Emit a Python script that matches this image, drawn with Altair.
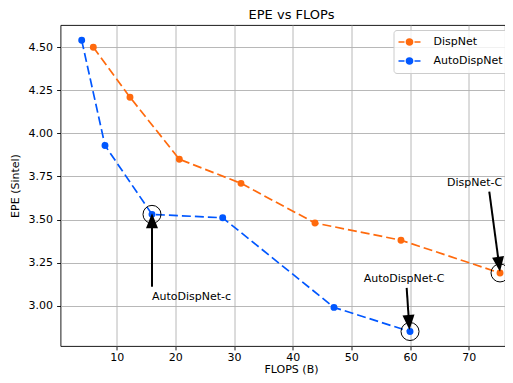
import math
import altair as alt
import pandas as pd

# ---------------- data ----------------
series_names = ["DispNet", "AutoDispNet"]
series_colors = ["#ff6a0d", "#0057ff"]

disp_flops = [6.02, 12.27, 20.68, 31.19, 43.80, 58.46, 75.34]
disp_epe = [4.50, 4.21, 3.85, 3.71, 3.48, 3.38, 3.19]
auto_flops = [4.04, 8.01, 16.02, 28.07, 47.04, 60.00]
auto_epe = [4.54, 3.93, 3.53, 3.51, 2.99, 2.85]

highlight_flops = [16.02, 60.00, 75.34]
highlight_epe = [3.53, 2.85, 3.19]

ann_labels = ["AutoDispNet-c", "AutoDispNet-C", "DispNet-C"]
ann_text_x = [16.02, 52.1, 66.3]
ann_text_y = [3.052, 3.153, 3.710]
ann_tail_x = [16.02, 59.43, 73.51]
ann_tail_y = [3.110, 3.103, 3.662]
ann_tip_x = [16.02, 59.91, 75.34]
ann_tip_y = [3.536, 2.859, 3.197]

x_ticks = [10, 20, 30, 40, 50, 60, 70]
y_ticks = [3.00, 3.25, 3.50, 3.75, 4.00, 4.25, 4.50]

# ---------------- layout ----------------
PAD_L, PAD_T, PAD_B = 52.5, 17, 29
PLOT_W, PLOT_H = 444.5, 321
PX_X = 5.867
X_DOMAIN = [0.426, 0.426 + PLOT_W / PX_X]
Y_DOMAIN = [2.766, 4.629]
PX_Y = PLOT_H / (Y_DOMAIN[1] - Y_DOMAIN[0])
FONT = "DejaVu Sans"
HEAD_LEN = 15

# ---------------- tables ----------------
rows = []
for i, (x, y) in enumerate(zip(disp_flops, disp_epe)):
    rows.append({"series": series_names[0], "flops": x, "epe": y, "i": i})
for i, (x, y) in enumerate(zip(auto_flops, auto_epe)):
    rows.append({"series": series_names[1], "flops": x, "epe": y, "i": i})
df = pd.DataFrame(rows)

df_hl = pd.DataFrame({"flops": highlight_flops, "epe": highlight_epe})
df_txt = pd.DataFrame({"label": ann_labels, "x": ann_text_x, "y": ann_text_y})

arrows = []
for tx, ty, hx, hy in zip(ann_tail_x, ann_tail_y, ann_tip_x, ann_tip_y):
    dx = (hx - tx) * PX_X
    dy = -(hy - ty) * PX_Y
    L = math.hypot(dx, dy)
    ux, uy = dx / L, dy / L
    back = HEAD_LEN - 3
    ex = hx - ux * back / PX_X
    ey = hy + uy * back / PX_Y
    ang = math.degrees(math.atan2(dx, -dy)) % 360
    arrows.append({"x": tx, "y": ty, "x2": ex, "y2": ey, "hx": hx, "hy": hy, "angle": ang})
df_arr = pd.DataFrame(arrows)

x_scale = alt.Scale(domain=X_DOMAIN, nice=False, zero=False)
y_scale = alt.Scale(domain=Y_DOMAIN, nice=False, zero=False)

x_enc = alt.X("flops:Q", scale=x_scale,
              axis=alt.Axis(values=x_ticks, format="d", title="FLOPS (B)",
                            titleX=230.5, titleY=23.5, titleBaseline="middle",
                            labelPadding=1.5))
y_enc = alt.Y("epe:Q", scale=y_scale,
              axis=alt.Axis(values=y_ticks, format=".2f", title="EPE (Sintel)",
                            titleX=-45.5, titleY=PLOT_H / 2, titleBaseline="middle",
                            labelPadding=4))

color_scale = alt.Scale(domain=series_names, range=series_colors)

LEG_PATH = ("M-1.167,0L-0.167,0M1.5,0L2.5,0"
            "M0.167,0A0.5,0.5 0 1,0 1.167,0A0.5,0.5 0 1,0 0.167,0Z")

legend = alt.Legend(title=None, orient="none", legendX=333, legendY=5,
                    symbolType=LEG_PATH, symbolSize=144, symbolStrokeWidth=1.7,
                    labelOffset=21, rowPadding=5, padding=5,
                    strokeColor="#cccccc", fillColor="rgba(255,255,255,0.8)",
                    cornerRadius=3, labelFontSize=11, labelFont=FONT,
                    labelColor="black")

lines = alt.Chart(df).mark_line(strokeDash=[9, 4], strokeWidth=1.7).encode(
    x=x_enc, y=y_enc,
    stroke=alt.Stroke("series:N", scale=color_scale, legend=legend,
                      sort=series_names),
    order="i:Q",
)
points = alt.Chart(df).mark_circle(size=48, opacity=1).encode(
    x="flops:Q", y="epe:Q",
    fill=alt.Fill("series:N", scale=color_scale, legend=legend, sort=series_names),
)
rings = alt.Chart(df_hl).mark_point(shape="circle", size=324, filled=False,
                                    color="black", strokeWidth=1, opacity=1).encode(
    x="flops:Q", y="epe:Q")

shafts = alt.Chart(df_arr).mark_rule(color="black", strokeWidth=2).encode(
    x="x:Q", y="y:Q", x2="x2:Q", y2="y2:Q")
heads = alt.Chart(df_arr).mark_point(shape="M0,0L-0.4,1L0.4,1Z", size=(2 * HEAD_LEN) ** 2,
                                     filled=True, color="black", opacity=1,
                                     strokeWidth=0).encode(
    x="hx:Q", y="hy:Q", angle=alt.Angle("angle:Q", scale=None))

texts = alt.Chart(df_txt).mark_text(align="left", baseline="middle", font=FONT,
                                    fontSize=11, color="black").encode(
    x="x:Q", y="y:Q", text="label:N")

chart = alt.layer(lines, points, rings, shafts, heads, texts).properties(
    width=PLOT_W, height=PLOT_H,
    title=alt.TitleParams("EPE vs FLOPs", font=FONT, fontSize=13,
                          fontWeight="normal", color="black", anchor="middle",
                          dx=8.75, offset=3),
    padding={"left": PAD_L, "top": PAD_T, "right": 0, "bottom": PAD_B},
    autosize=alt.AutoSizeParams(type="none"),
).configure_view(stroke="black", strokeWidth=0.9).configure_axis(
    grid=True, gridColor="#b0b0b0", gridWidth=0.9, domain=False,
    tickColor="black", tickWidth=0.9, tickSize=3.9,
    labelFont=FONT, labelFontSize=11, labelColor="black",
    titleFont=FONT, titleFontSize=11, titleFontWeight="normal", titleColor="black",
)

chart.save("out.html", embed_options={"renderer": "svg", "actions": False})
